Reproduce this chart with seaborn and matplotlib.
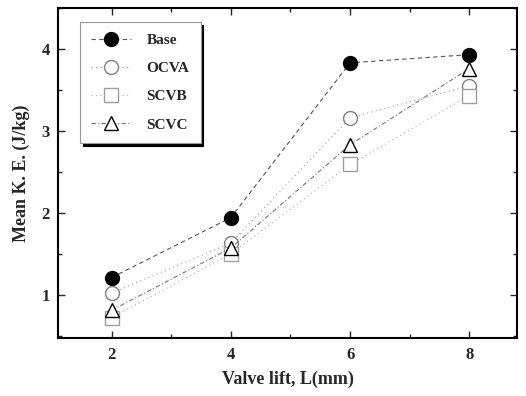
import matplotlib
matplotlib.use("Agg")
import matplotlib.pyplot as plt
from matplotlib.ticker import MultipleLocator
import seaborn as sns
import pandas as pd

lift = [2, 4, 6, 8]
series_names = ["Base", "OCVA", "SCVB", "SCVC"]
base = [1.21, 1.94, 3.83, 3.93]
ocva = [1.02, 1.63, 3.16, 3.55]
scvb = [0.72, 1.50, 2.59, 3.43]
scvc = [0.81, 1.57, 2.83, 3.76]

df = pd.DataFrame({
    "lift": lift * 4,
    "ke": base + ocva + scvb + scvc,
    "case": [n for n in series_names for _ in lift],
})

sns.set_theme(style="ticks")
plt.rcParams["font.family"] = ["Liberation Serif", "DejaVu Serif"]
plt.rcParams["font.weight"] = "bold"

fig = plt.figure(figsize=(5.26, 3.96), dpi=100)
ax = fig.add_axes([0.110, 0.146, 0.873, 0.834])

palette = {"Base": "#000000", "OCVA": "#555555", "SCVB": "#888888", "SCVC": "#222222"}
markers = {"Base": "o", "OCVA": "o", "SCVB": "s", "SCVC": "^"}
dashes = {"Base": (4, 3), "OCVA": (1, 3), "SCVB": (1, 3), "SCVC": (4, 2, 1, 2)}

sns.lineplot(data=df, x="lift", y="ke", hue="case", style="case",
             palette=palette, markers=markers, dashes=dashes,
             markersize=10, linewidth=0.8, ax=ax, legend=False)

# marker faces: Base filled, others open
fills = {"Base": "black", "OCVA": "white", "SCVB": "white", "SCVC": "white"}
edges = {"Base": "black", "OCVA": "#808080", "SCVB": "#a0a0a0", "SCVC": "black"}
linecol = {"Base": "#555555", "OCVA": "#999999", "SCVB": "#aaaaaa", "SCVC": "#777777"}
for line, name in zip(ax.get_lines(), series_names):
    line.set_markerfacecolor(fills[name])
    line.set_markeredgecolor(edges[name])
    line.set_markeredgewidth(1.0)
    line.set_color(linecol[name])
    line.set_label(name)

ax.set_xlim(1.1, 8.8)
ax.set_ylim(0.47, 4.5)
ax.xaxis.set_major_locator(MultipleLocator(2))
ax.xaxis.set_minor_locator(MultipleLocator(1))
ax.yaxis.set_major_locator(MultipleLocator(1))
ax.yaxis.set_minor_locator(MultipleLocator(0.5))
ax.tick_params(which="both", direction="in", top=True, right=True, width=1.0)
ax.tick_params(which="major", length=5, labelsize=12, pad=6)
ax.tick_params(which="minor", length=3)
for s in ax.spines.values():
    s.set_linewidth(1.5)
    s.set_color("black")

ax.set_xlabel("Valve lift, L(mm)", fontsize=13, fontweight="bold", labelpad=6)
ax.set_ylabel("Mean K. E. (J/kg)", fontsize=13, fontweight="bold", labelpad=8)

leg = ax.legend(loc="upper left", bbox_to_anchor=(0.048, 0.958), borderaxespad=0,
                frameon=True, fancybox=False,
                shadow={"color": "black", "alpha": 1.0},
                fontsize=11, handlelength=2.6, handletextpad=1.0,
                borderpad=0.75, labelspacing=0.95, framealpha=1.0)
leg.get_frame().set_edgecolor("#999999")
leg.get_frame().set_linewidth(0.8)

fig.savefig("out.png", dpi=100)
